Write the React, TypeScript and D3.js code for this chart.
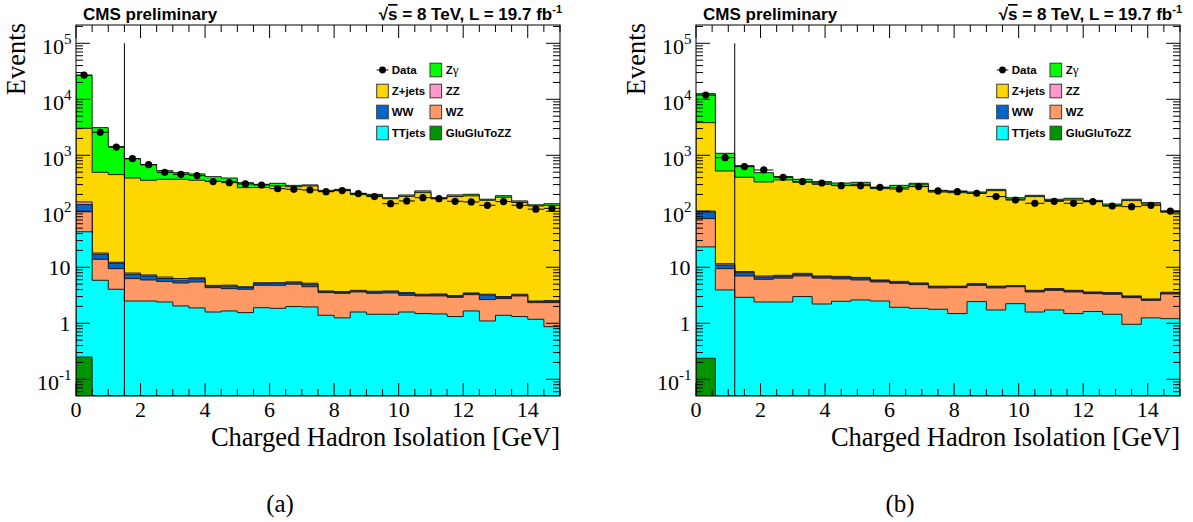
import React from 'react';
import * as d3 from 'd3';

const W = 1193;
const H = 522;

// ---------- Panel (a): 30 bins of 0.5 GeV ----------
const binWidthA = 0.5;
const cutA = 1.5;
const ggzzA = [0.25, 0, 0, 0, 0, 0, 0, 0, 0, 0, 0, 0, 0, 0, 0, 0, 0, 0, 0, 0, 0, 0, 0, 0, 0, 0, 0, 0, 0, 0];
const ttA = [42.8, 5.86, 4.05, 2.5, 2.5, 2.4, 2.04, 1.88, 1.59, 1.66, 1.55, 1.9, 1.85, 1.99, 1.96, 1.39, 1.25, 1.59, 1.45, 1.45, 1.59, 1.49, 1.47, 1.32, 1.66, 1.1, 1.39, 1.32, 1.18, 0.87];
const wzA = [55, 8.04, 5.41, 3.78, 3.44, 3.2, 3.21, 3.59, 2.74, 2.5, 2.5, 2.87, 2.92, 3.01, 2.54, 2.14, 2.18, 2.04, 1.98, 2.03, 1.57, 1.59, 1.61, 1.59, 1.59, 1.55, 1.37, 1.76, 1.16, 1.47];
const wwA = [35, 3.2, 2.34, 1.22, 1.06, 0.7, 0.65, 0.78, 0.27, 0.44, 0.28, 0.33, 0.43, 0.3, 0.47, 0.14, 0.14, 0.15, 0.2, 0.19, 0.23, 0.12, 0.17, 0.12, 0.14, 0.55, 0.15, 0.12, 0.1, 0.13];
const zzA = [14, 0.9, 0.5, 0.4, 0.3, 0.4, 0.4, 0.25, 0.15, 0.2, 0.17, 0.2, 0.1, 0.2, 0.23, 0.11, 0.11, 0.1, 0.1, 0.11, 0.14, 0.1, 0.09, 0.09, 0.09, 0.1, 0.09, 0.1, 0.06, 0.07];
const zjA = [2890, 479, 440, 385, 351, 366, 367, 352, 339, 335, 260, 260, 278, 269, 278, 224, 233, 194, 188, 164, 181, 212, 165, 180, 185, 154, 175, 140, 122, 125];
const zgA = [23800, 2620, 978, 478, 323, 159, 117, 107, 72, 53, 60, 38, 33, 16, 13, 9, 10, 12, 9, 7, 11, 16, 7, 13, 13, 7, 12, 10, 6, 9];
const dataA = [27000, 2580, 1400, 870, 680, 497, 458, 434, 340, 325, 308, 295, 254, 247, 240, 224, 234, 207, 183, 137, 153, 175, 168, 151, 147, 128, 149, 128, 109, 113];

// ---------- Panel (b): 25 bins of 0.6 GeV ----------
const binWidthB = 0.6;
const cutB = 1.2;
const ggzzB = [0.237, 0, 0, 0, 0, 0, 0, 0, 0, 0, 0, 0, 0, 0, 0, 0, 0, 0, 0, 0, 0, 0, 0, 0, 0];
const ttB = [22.9, 3.94, 2.91, 2.4, 2.4, 3.0, 2.21, 2.47, 2.61, 2.5, 1.93, 1.85, 1.78, 1.49, 2.44, 1.73, 2.24, 1.59, 1.73, 1.49, 1.62, 1.45, 0.96, 1.25, 1.21];
const wzB = [50.9, 5.52, 4.09, 3.7, 4.0, 4.0, 4.19, 3.73, 3.33, 2.97, 3.25, 3.05, 2.5, 2.84, 2.33, 2.55, 2.26, 2.04, 2.15, 2.14, 1.77, 1.85, 1.91, 1.32, 2.13];
const wwB = [23, 1.54, 1.03, 0.6, 0.5, 0.5, 0.4, 0.4, 0.51, 0.33, 0.22, 0.2, 0.22, 0.17, 0.2, 0.22, 0.1, 0.15, 0.17, 0.15, 0.14, 0.13, 0.13, 0.08, 0.14];
const zzB = [4, 0.6, 0.37, 0.3, 0.3, 0.3, 0.2, 0.3, 0.15, 0.14, 0.2, 0.15, 0.1, 0.1, 0.13, 0.1, 0.1, 0.1, 0.11, 0.1, 0.1, 0.1, 0.08, 0.07, 0.1];
const zjB = [3729, 513, 397, 327, 356, 322, 296, 284, 296, 248, 259, 291, 216, 210, 205, 229, 159, 179, 151, 155, 145, 124, 152, 132, 93];
const zgB = [8770, 561, 248, 156, 53, 43, 36, 29, 27, 14, 26, 20, 16, 16, 11, 13, 11, 10, 9, 12, 8, 7, 9, 8, 4];
const dataB = [11900, 907, 628, 547, 405, 339, 320, 287, 287, 268, 250, 276, 231, 224, 210, 183, 159, 139, 151, 139, 149, 124, 121, 128, 101];

// ---------- Axes / labels ----------
const X_MIN = 0;
const X_MAX = 15;
const Y_MIN = 0.0503;
const Y_MAX = 212300;
const xTickLabels = [0, 2, 4, 6, 8, 10, 12, 14];
const yDecades = [-1, 0, 1, 2, 3, 4, 5];
const sampleNames = ['GluGluToZZ', 'TTjets', 'WZ', 'WW', 'ZZ', 'Z+jets', 'Zγ'];
const sampleColors = ['#009400', '#00ffff', '#ff9966', '#0066cc', '#ff99cc', '#ffd700', '#00ff00'];

const SANS = '"Liberation Sans", Arial, Helvetica, sans-serif';
const SERIF = '"Liberation Serif", "Times New Roman", serif';

const FL = 76, FR = 560, FT = 25, FB = 396;

interface PanelProps {
  ox: number;
  id: string;
  label: string;
  binW: number;
  cut: number;
  layers: number[][];
  data: number[];
}

function Panel({ ox, id, label, binW, cut, layers, data }: PanelProps) {
  const x = d3.scaleLinear().domain([X_MIN, X_MAX]).range([ox + FL, ox + FR]);
  const y = d3.scaleLog().domain([Y_MIN, Y_MAX]).range([FB, FT]);
  const n = data.length;
  const line = d3.line();

  // cumulative stack
  const cum: number[][] = [];
  let running = new Array(n).fill(0);
  layers.forEach((l) => {
    running = running.map((r, i) => r + l[i]);
    cum.push(running.slice());
  });

  const stepPath = (vals: number[]) => {
    const pts: [number, number][] = [[x(0), FB]];
    for (let i = 0; i < n; i++) {
      const yv = vals[i] > Y_MIN ? y(vals[i]) : FB;
      pts.push([x(i * binW), yv], [x((i + 1) * binW), yv]);
    }
    pts.push([x(X_MAX), FB]);
    return line(pts) + 'Z';
  };

  // ticks
  const xMinor = d3.range(0, 15.001, 0.5);
  const yTicks: { v: number; major: boolean }[] = [];
  for (let e = -2; e <= 5; e++) {
    for (let m = 1; m <= 9; m++) {
      const v = m * Math.pow(10, e);
      if (v >= Y_MIN && v <= Y_MAX) yTicks.push({ v, major: m === 1 });
    }
  }

  const order = [6, 5, 4, 3, 2, 1, 0];
  const clipId = 'clip-' + id;

  const legRows = [70, 91, 112, 133];
  const lx1 = ox + 376.7;
  const lx2 = ox + 430;
  const legendBox = (bx: number, by: number, color: string) => (
    <rect x={bx} y={by - 6.8} width={11.6} height={13.6} fill={color} stroke="#3a3a3a" strokeWidth={1} />
  );
  const legText = (tx: number, ty: number, t: React.ReactNode) => (
    <text x={tx} y={ty + 4.2} fontFamily={SANS} fontWeight="bold" fontSize={11.5} fill="#000">{t}</text>
  );

  return (
    <g>
      <defs>
        <clipPath id={clipId}>
          <rect x={ox + FL} y={FT} width={FR - FL} height={FB - FT} />
        </clipPath>
      </defs>
      <g clipPath={`url(#${clipId})`}>
        {order.map((k) => (
          <path key={k} d={stepPath(cum[k])} fill={sampleColors[k]} stroke="#1c1c1c" strokeWidth={1} />
        ))}
        <line x1={x(cut)} x2={x(cut)} y1={y(1e5)} y2={FB} stroke="#000" strokeWidth={1} />
        {data.map((d, i) => {
          const cx = x((i + 0.5) * binW);
          const cy = y(d);
          const e = Math.sqrt(d);
          return (
            <g key={i}>
              <line x1={x(i * binW)} x2={x((i + 1) * binW)} y1={cy} y2={cy} stroke="#000" strokeWidth={1} />
              <line x1={cx} x2={cx} y1={y(d + e)} y2={y(Math.max(d - e, Y_MIN))} stroke="#000" strokeWidth={1} />
              <circle cx={cx} cy={cy} r={3.6} fill="#000" />
            </g>
          );
        })}
      </g>

      {/* ticks */}
      {xMinor.map((v, i) => {
        const major = Math.abs(v / 2 - Math.round(v / 2)) < 1e-6;
        const len = major ? 13 : 7;
        const xx = x(v);
        return (
          <g key={'xt' + i}>
            <line x1={xx} x2={xx} y1={FB} y2={FB - len} stroke="#000" strokeWidth={1} />
            <line x1={xx} x2={xx} y1={FT} y2={FT + len} stroke="#000" strokeWidth={1} />
          </g>
        );
      })}
      {yTicks.map((t, i) => {
        const len = t.major ? 14 : 7;
        const yy = y(t.v);
        return (
          <g key={'yt' + i}>
            <line x1={ox + FL} x2={ox + FL + len} y1={yy} y2={yy} stroke="#000" strokeWidth={1} />
            <line x1={ox + FR} x2={ox + FR - len} y1={yy} y2={yy} stroke="#000" strokeWidth={1} />
          </g>
        );
      })}

      <rect x={ox + FL} y={FT} width={FR - FL} height={FB - FT} fill="none" stroke="#000" strokeWidth={1} />

      {/* tick labels */}
      {xTickLabels.map((v) => (
        <text key={'xl' + v} x={x(v)} y={417} textAnchor="middle" fontFamily={SERIF} fontSize={22} fill="#000">{v}</text>
      ))}
      {yDecades.map((e) => {
        const yy = y(Math.pow(10, e));
        if (e === 0 || e === 1) {
          return (
            <text key={'yl' + e} x={ox + 70.5} y={yy + 8} textAnchor="end" fontFamily={SERIF} fontSize={22} fill="#000">{e === 0 ? '1' : '10'}</text>
          );
        }
        return (
          <text key={'yl' + e} x={ox + 71.5} y={yy + 11} textAnchor="end" fontFamily={SERIF} fontSize={22} fill="#000">
            10<tspan fontSize={15} dy={-10}>{e < 0 ? '-' + Math.abs(e) : String(e)}</tspan>
          </text>
        );
      })}

      {/* titles */}
      <text x={ox + FR} y={446} textAnchor="end" fontFamily={SERIF} fontSize={26.5} fill="#000">Charged Hadron Isolation [GeV]</text>
      <text transform={`translate(${ox + 25},23) rotate(-90)`} textAnchor="end" fontFamily={SERIF} fontSize={26.5} fill="#000">Events</text>
      <text x={ox + 83} y={20} fontFamily={SANS} fontWeight="bold" fontSize={17} fill="#000">CMS preliminary</text>
      <text x={ox + 562} y={20} textAnchor="end" fontFamily={SANS} fontWeight="bold" fontSize={17} fill="#000">
        √<tspan textDecoration="overline">s</tspan> = 8 TeV, L = 19.7 fb<tspan fontSize={11} dy={-7}>-1</tspan>
      </text>
      <text x={ox + 280} y={512} textAnchor="middle" fontFamily={SERIF} fontSize={25} fill="#000">{label}</text>

      {/* legend */}
      <line x1={lx1} x2={lx1 + 11.6} y1={legRows[0]} y2={legRows[0]} stroke="#000" strokeWidth={1} />
      <circle cx={lx1 + 5.8} cy={legRows[0]} r={3.4} fill="#000" />
      {legText(lx1 + 15, legRows[0], 'Data')}
      {legendBox(lx2, legRows[0], sampleColors[6])}
      {legText(lx2 + 15.7, legRows[0], <>Z<tspan fontFamily={SERIF} fontWeight="normal" fontSize={13}>γ</tspan></>)}
      {legendBox(lx1, legRows[1], sampleColors[5])}
      {legText(lx1 + 15, legRows[1], sampleNames[5])}
      {legendBox(lx2, legRows[1], sampleColors[4])}
      {legText(lx2 + 15.7, legRows[1], sampleNames[4])}
      {legendBox(lx1, legRows[2], sampleColors[3])}
      {legText(lx1 + 15, legRows[2], sampleNames[3])}
      {legendBox(lx2, legRows[2], sampleColors[2])}
      {legText(lx2 + 15.7, legRows[2], sampleNames[2])}
      {legendBox(lx1, legRows[3], sampleColors[1])}
      {legText(lx1 + 15, legRows[3], sampleNames[1])}
      {legendBox(lx2, legRows[3], sampleColors[0])}
      {legText(lx2 + 15.7, legRows[3], sampleNames[0])}
    </g>
  );
}

export default function App() {
  return (
    <svg width={W} height={H} style={{ position: 'absolute', left: 0, top: 0, background: '#fff' }} xmlns="http://www.w3.org/2000/svg">
      <rect x={0} y={0} width={W} height={H} fill="#fff" />
      <Panel ox={0} id="a" label="(a)" binW={binWidthA} cut={cutA}
        layers={[ggzzA, ttA, wzA, wwA, zzA, zjA, zgA]} data={dataA} />
      <Panel ox={620} id="b" label="(b)" binW={binWidthB} cut={cutB}
        layers={[ggzzB, ttB, wzB, wwB, zzB, zjB, zgB]} data={dataB} />
    </svg>
  );
}
